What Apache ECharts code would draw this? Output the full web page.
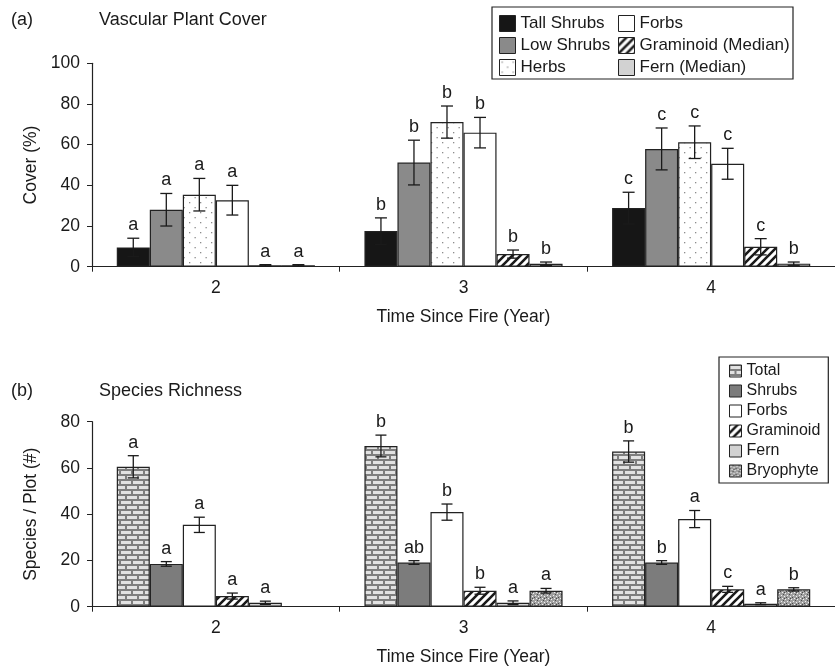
<!DOCTYPE html>
<html>
<head>
<meta charset="utf-8">
<script src="https://cdn.jsdelivr.net/npm/echarts@6/dist/echarts.min.js"></script>
<style>html,body{margin:0;padding:0;background:#fff;}#c{width:835px;height:667px;}</style>
</head>
<body>
<div id="c"></div>
<script>
// ---------- DATA ----------
const years = ['2', '3', '4'];
const coverTicks = [0, 20, 40, 60, 80, 100];
const richTicks = [0, 20, 40, 60, 80];

// Panel (a) Vascular Plant Cover (%)
const tallShrubsCover = [9.5, 17.5, 28.8];
const tallShrubsCoverErr = [4.5, 6.5, 7.8];
const tallShrubsCoverLet = ['a', 'b', 'c'];
const lowShrubsCover = [28.0, 51.2, 57.9];
const lowShrubsCoverErr = [8.0, 11.0, 10.3];
const lowShrubsCoverLet = ['a', 'b', 'c'];
const herbsCover = [35.4, 71.1, 61.2];
const herbsCoverErr = [8.0, 7.9, 8.0];
const herbsCoverLet = ['a', 'b', 'c'];
const forbsCover = [32.7, 65.9, 50.6];
const forbsCoverErr = [7.3, 7.5, 7.6];
const forbsCoverLet = ['a', 'b', 'c'];
const graminoidCover = [0.7, 6.2, 9.8];
const graminoidCoverErr = [0.3, 2.0, 4.0];
const graminoidCoverLet = ['a', 'b', 'c'];
const fernCover = [0.7, 1.4, 1.5];
const fernCoverErr = [0.3, 0.9, 0.8];
const fernCoverLet = ['a', 'b', 'b'];

// Panel (b) Species Richness (#/plot)
const totalRich = [60.5, 69.5, 67.1];
const totalRichErr = [4.8, 4.7, 4.6];
const totalRichLet = ['a', 'b', 'b'];
const shrubsRich = [18.5, 19.1, 19.1];
const shrubsRichErr = [1.0, 0.8, 0.8];
const shrubsRichLet = ['a', 'ab', 'b'];
const forbsRich = [35.4, 40.9, 37.9];
const forbsRichErr = [3.3, 3.5, 3.7];
const forbsRichLet = ['a', 'b', 'a'];
const graminoidRich = [4.6, 6.9, 7.5];
const graminoidRichErr = [1.3, 1.5, 1.3];
const graminoidRichLet = ['a', 'b', 'c'];
const fernRich = [1.7, 1.7, 1.3];
const fernRichErr = [0.7, 0.8, 0.4];
const fernRichLet = ['a', 'a', 'a'];
const bryophyteRich = [null, 6.9, 7.5];
const bryophyteRichErr = [null, 1.0, 0.7];
const bryophyteRichLet = ['', 'a', 'b'];

// ---------- PATTERNS ----------
function mkPattern(w, h, draw) {
  const c = document.createElement('canvas');
  c.width = w; c.height = h;
  const g = c.getContext('2d');
  draw(g, w, h);
  return { image: c, repeat: 'repeat' };
}
const brick = mkPattern(12, 10, (g, w, h) => {
  g.fillStyle = '#7e7e7e'; g.fillRect(0, 0, w, h);
  g.fillStyle = '#e2e2e2';
  g.fillRect(1, 1, 10, 3);
  g.fillRect(7, 6, 5, 3); g.fillRect(0, 6, 5, 3);
});
const dots = mkPattern(11, 10, (g, w, h) => {
  g.fillStyle = '#ffffff'; g.fillRect(0, 0, w, h);
  g.fillStyle = '#8c8c8c';
  g.fillRect(2, 2, 1.3, 1.3); g.fillRect(7.5, 7, 1.3, 1.3);
});
const hatch = mkPattern(8, 8, (g, w, h) => {
  g.fillStyle = '#ffffff'; g.fillRect(0, 0, w, h);
  g.strokeStyle = '#1a1a1a'; g.lineWidth = 2.6;
  g.beginPath();
  g.moveTo(-2, 10); g.lineTo(10, -2);
  g.moveTo(-2, 2); g.lineTo(2, -2);
  g.moveTo(6, 10); g.lineTo(10, 6);
  g.stroke();
});
const speckle = mkPattern(6, 6, (g, w, h) => {
  g.fillStyle = '#a0a0a0'; g.fillRect(0, 0, w, h);
  g.fillStyle = '#f2f2f2';
  g.fillRect(1, 1, 1, 1); g.fillRect(4, 2, 1, 1); g.fillRect(2, 4, 1, 1); g.fillRect(5, 5, 1, 1);
  g.fillStyle = '#4a4a4a';
  g.fillRect(3, 0, 1, 1); g.fillRect(0, 3, 1, 1); g.fillRect(4, 4, 1, 1);
});

const FONT = 'Liberation Sans, Arial, sans-serif';
const TXT = '#1a1a1a';

// series definitions (names/styles)
const coverSeries = [
  { name: 'Tall Shrubs', data: tallShrubsCover, err: tallShrubsCoverErr, let: tallShrubsCoverLet, color: '#161616' },
  { name: 'Low Shrubs', data: lowShrubsCover, err: lowShrubsCoverErr, let: lowShrubsCoverLet, color: '#8a8a8a' },
  { name: 'Herbs', data: herbsCover, err: herbsCoverErr, let: herbsCoverLet, color: dots },
  { name: 'Forbs', data: forbsCover, err: forbsCoverErr, let: forbsCoverLet, color: '#ffffff' },
  { name: 'Graminoid (Median)', data: graminoidCover, err: graminoidCoverErr, let: graminoidCoverLet, color: hatch },
  { name: 'Fern (Median)', data: fernCover, err: fernCoverErr, let: fernCoverLet, color: '#d2d2d2' }
];
const richSeries = [
  { name: 'Total', data: totalRich, err: totalRichErr, let: totalRichLet, color: brick },
  { name: 'Shrubs', data: shrubsRich, err: shrubsRichErr, let: shrubsRichLet, color: '#7c7c7c' },
  { name: 'Forbs ', data: forbsRich, err: forbsRichErr, let: forbsRichLet, color: '#ffffff' },
  { name: 'Graminoid', data: graminoidRich, err: graminoidRichErr, let: graminoidRichLet, color: hatch },
  { name: 'Fern', data: fernRich, err: fernRichErr, let: fernRichLet, color: '#d2d2d2' },
  { name: 'Bryophyte', data: bryophyteRich, err: bryophyteRichErr, let: bryophyteRichLet, color: speckle }
];

function barSeries(list, axisIdx) {
  return list.map(s => ({
    type: 'bar', name: s.name, xAxisIndex: axisIdx, yAxisIndex: axisIdx,
    data: s.data.map(v => v == null ? '-' : v),
    barGap: '0%', barCategoryGap: '20%',
    itemStyle: { color: s.color, borderColor: '#222', borderWidth: 1.2 },
    silent: true, z: 2
  }));
}

function errSeries(list, axisIdx, capHalf) {
  const items = [];
  list.forEach((s, si) => {
    s.data.forEach((v, ci) => {
      if (v == null) return;
      items.push({ c: ci, s: si, m: v, e: s.err[ci], t: s.let[ci] });
    });
  });
  const n = list.length;
  return {
    type: 'custom', xAxisIndex: axisIdx, yAxisIndex: axisIdx, silent: true, z: 5,
    data: items.map(d => [d.c, d.m + d.e]),
    renderItem: function (params, api) {
      const d = items[params.dataIndex];
      const band = api.size([1, 0])[0];
      const bw = band * 0.8 / n;
      const x = api.coord([d.c, d.m])[0] + (d.s - (n - 1) / 2) * bw;
      const yTop = api.coord([d.c, d.m + d.e])[1];
      const yBot = api.coord([d.c, Math.max(0, d.m - d.e)])[1];
      const st = { stroke: '#1a1a1a', lineWidth: 1.3 };
      return {
        type: 'group',
        children: [
          { type: 'line', shape: { x1: x, y1: yTop, x2: x, y2: yBot }, style: st },
          { type: 'line', shape: { x1: x - capHalf, y1: yTop, x2: x + capHalf, y2: yTop }, style: st },
          { type: 'line', shape: { x1: x - capHalf, y1: yBot, x2: x + capHalf, y2: yBot }, style: st },
          { type: 'text', style: { text: d.t, x: x, y: yTop - 4, textAlign: 'center', textVerticalAlign: 'bottom',
              font: '18px ' + FONT, fill: TXT } }
        ]
      };
    }
  };
}

function xAxis(gridIndex) {
  return {
    type: 'category', gridIndex: gridIndex, data: years,
    name: 'Time Since Fire (Year)', nameLocation: 'middle', nameGap: 41,
    nameTextStyle: { fontSize: 17.5, fontFamily: FONT, color: TXT },
    axisLine: { lineStyle: { color: '#222', width: 1.2 } },
    axisTick: { show: true, length: 5, lineStyle: { color: '#222' } },
    axisLabel: { fontSize: 17.5, fontFamily: FONT, color: TXT, margin: 12 },
    splitLine: { show: false }
  };
}
function yAxis(gridIndex, max, name, ticks) {
  return {
    type: 'value', gridIndex: gridIndex, min: ticks[0], max: max, interval: ticks[1] - ticks[0],
    name: name, nameLocation: 'middle', nameGap: 52,
    nameTextStyle: { fontSize: 17.5, fontFamily: FONT, color: TXT },
    axisLine: { show: true, lineStyle: { color: '#222', width: 1.2 } },
    axisTick: { show: true, length: 5, lineStyle: { color: '#222' } },
    axisLabel: { fontSize: 17.5, fontFamily: FONT, color: TXT, margin: 12 },
    splitLine: { show: false }
  };
}

const legendCommon = {
  orient: 'vertical', itemWidth: 16, itemHeight: 16, selectedMode: false, icon: 'rect',
  textStyle: { fontSize: 17, fontFamily: FONT, color: TXT },
  itemStyle: { borderColor: '#222', borderWidth: 1 }
};

const chart = echarts.init(document.getElementById('c'), null, { renderer: 'canvas' });
chart.setOption({
  animation: false,
  backgroundColor: '#fff',
  title: [
    { text: '(a)', left: 11, top: 11, padding: 0, textStyle: { fontSize: 18, fontWeight: 'normal', fontFamily: FONT, color: TXT } },
    { text: 'Vascular Plant Cover', left: 99, top: 11, padding: 0, textStyle: { fontSize: 18, fontWeight: 'normal', fontFamily: FONT, color: TXT } },
    { text: '(b)', left: 11, top: 382, padding: 0, textStyle: { fontSize: 18, fontWeight: 'normal', fontFamily: FONT, color: TXT } },
    { text: 'Species Richness', left: 99, top: 382, padding: 0, textStyle: { fontSize: 18, fontWeight: 'normal', fontFamily: FONT, color: TXT } }
  ],
  graphic: [
    { type: 'rect', shape: { x: 492, y: 7, width: 301, height: 72 }, style: { fill: 'none', stroke: '#222', lineWidth: 1.2 }, z: 10 }
  ],
  legend: [
    Object.assign({}, legendCommon, { left: 499, top: 15, padding: 0, itemGap: 5, data: ['Tall Shrubs', 'Low Shrubs', 'Herbs'] }),
    Object.assign({}, legendCommon, { left: 618, top: 15, padding: 0, itemGap: 5, data: ['Forbs', 'Graminoid (Median)', 'Fern (Median)'] }),
    Object.assign({}, legendCommon, {
      left: 719, top: 357, padding: [6, 8, 4, 10], itemGap: 4, itemWidth: 12, itemHeight: 12,
      borderColor: '#222', borderWidth: 1.2,
      textStyle: { fontSize: 16, fontFamily: FONT, color: TXT },
      formatter: function (n) { return n.trim(); },
      data: ['Total', 'Shrubs', 'Forbs ', 'Graminoid', 'Fern', 'Bryophyte']
    })
  ],
  grid: [
    { left: 92, top: 63.3, width: 756, height: 203.4 },
    { left: 92, top: 421.7, width: 756, height: 185 }
  ],
  xAxis: [xAxis(0), xAxis(1)],
  yAxis: [yAxis(0, 100, 'Cover (%)', coverTicks), yAxis(1, 80, 'Species / Plot (#)', richTicks)],
  series: [].concat(
    barSeries(coverSeries, 0),
    [errSeries(coverSeries, 0, 6)],
    barSeries(richSeries, 1),
    [errSeries(richSeries, 1, 5.5)]
  )
});
</script>
</body>
</html>
